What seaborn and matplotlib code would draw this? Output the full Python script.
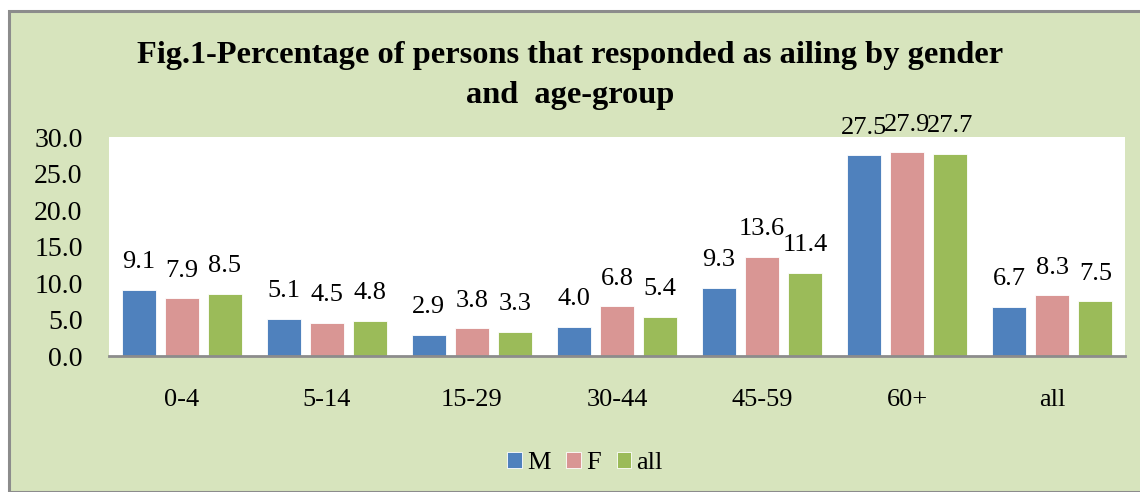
import matplotlib.pyplot as plt
import matplotlib.patches as mpatches
import pandas as pd
import seaborn as sns

# データ
age_groups = ["0-4", "5-14", "15-29", "30-44", "45-59", "60+", "all"]
male = [9.1, 5.1, 2.9, 4.0, 9.3, 27.5, 6.7]
female = [7.9, 4.5, 3.8, 6.8, 13.6, 27.9, 8.3]
total = [8.5, 4.8, 3.3, 5.4, 11.4, 27.7, 7.5]
series_names = ["M", "F", "all"]
colors = ["#4F81BD", "#D99694", "#9BBB59"]

df = pd.DataFrame({
    "age": age_groups * 3,
    "pct": male + female + total,
    "sex": [s for s in series_names for _ in age_groups],
})

sns.set_theme(style="white")
plt.rcParams["font.family"] = ["Liberation Serif", "DejaVu Serif"]
plt.rcParams["text.color"] = "black"
plt.rcParams["xtick.color"] = "black"
plt.rcParams["ytick.color"] = "black"

W, H = 1140, 492
fig = plt.figure(figsize=(W / 100, H / 100), dpi=100, facecolor="white")

# 背景（緑の枠）
bg = mpatches.Rectangle((8.5 / W, 0), 1, 1 - 10.5 / H, transform=fig.transFigure,
                        facecolor="#D7E4BD", edgecolor="#8C8C8C", linewidth=2.2,
                        zorder=-10)
fig.patches.append(bg)

ax = fig.add_axes([109 / W, 1 - 356 / H, (1125 - 109) / W, (356 - 137) / H])
ax.set_facecolor("white")

sns.barplot(data=df, x="age", y="pct", hue="sex", palette=colors,
            saturation=1, width=0.89, gap=0.21, ax=ax,
            edgecolor="white", linewidth=0.6, legend=True)

for cont in ax.containers:
    ax.bar_label(cont, fmt="%.1f", padding=12, fontsize=19)

ax.set_ylim(0, 30)
ax.set_yticks(range(0, 31, 5))
ax.set_yticklabels([f"{v:.1f}" for v in range(0, 31, 5)])
ax.tick_params(axis="y", labelsize=20, length=0, pad=19)
ax.tick_params(axis="x", labelsize=19, length=0, pad=24)
ax.set_xlabel("")
ax.set_ylabel("")
for side in ["top", "right", "left"]:
    ax.spines[side].set_visible(False)
ax.spines["bottom"].set_color("#8C8C8C")
ax.spines["bottom"].set_linewidth(2)
ax.set_xlim(-0.5, len(age_groups) - 0.5)

ax.legend(loc="center", bbox_to_anchor=(585 / W, 1 - 463 / H),
          bbox_transform=fig.transFigure, ncol=3, frameon=False,
          fontsize=19, handlelength=0.55, handleheight=0.55,
          handletextpad=0.2, columnspacing=0.6)

fig.text(0.5, 1 - 55 / H, "Fig.1-Percentage of persons that responded as ailing by gender",
         ha="center", va="center", fontsize=23.3, fontweight="bold")
fig.text(0.5, 1 - 95 / H, "and  age-group",
         ha="center", va="center", fontsize=23.3, fontweight="bold")

fig.savefig("out.png", dpi=100, facecolor="white")
